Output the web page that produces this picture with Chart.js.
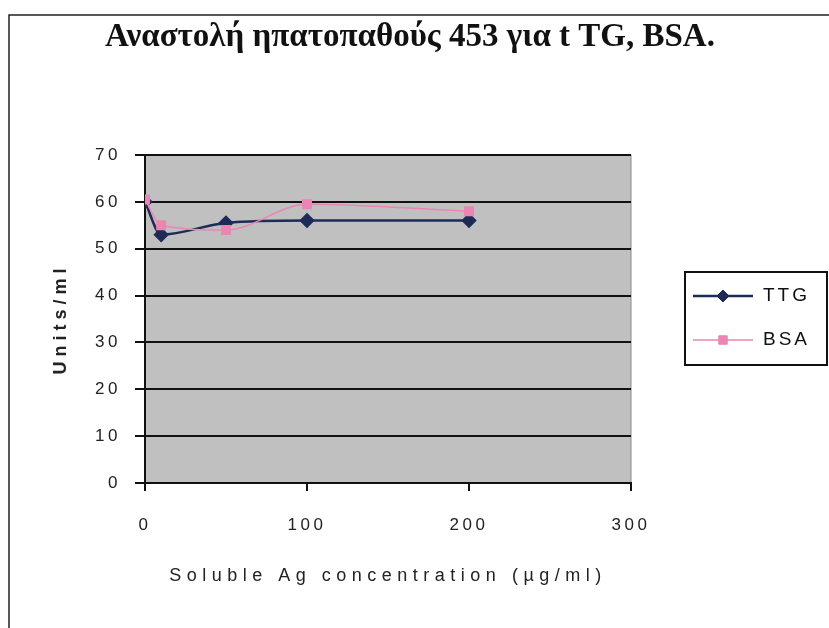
<!DOCTYPE html>
<html>
<head>
<meta charset="utf-8">
<script src="https://cdn.jsdelivr.net/npm/chart.js@4.4.1/dist/chart.umd.min.js"></script>
<style>
    html, body { margin: 0; padding: 0; background: #fff; }
    #wrap { width: 829px; height: 628px; }
</style>
</head>
<body>
<div id="wrap"><canvas id="chartUnits" width="829" height="628"></canvas></div>
<script>
// values
const concentrations = [0, 10, 50, 100, 200];
const ttgValues = [60, 53, 55.5, 56, 56];
const bsaValues = [60.5, 55, 54, 59.5, 58];
const xTicks = [0, 100, 200, 300];
const yTicks = [0, 10, 20, 30, 40, 50, 60, 70];

const chartTitle = "Αναστολή ηπατοπαθούς 453 για t TG, BSA.";
const ttgColor = "#1e2b57";
const bsaColor = "#ea86b3";

const toPoints = vals => concentrations.map((c, i) => ({x: c, y: vals[i]}));

// wider letter spacing for the axis titles, like the old Excel print
const spacedTitles = {
    id: "spacedTitles",
    afterLayout(chart) {
        [["x", "5.5px"], ["y", "5px"]].forEach(([id, sp]) => {
            const scale = chart.scales[id];
            const orig = scale.drawTitle;
            scale.drawTitle = function () {
                const ctx = this.ctx;
                const prev = ctx.letterSpacing;
                ctx.letterSpacing = sp;
                orig.apply(this, arguments);
                ctx.letterSpacing = prev;
            };
        });
    }
};

// gray plot area, page frame, title and boxed legend
const decorations = {
    id: "decorations",
    beforeDraw(chart) {
        const {ctx, chartArea: a} = chart;
        ctx.save();
        ctx.fillStyle = "#c0c0c0";
        ctx.fillRect(a.left, a.top, a.right - a.left, a.bottom - a.top);
        ctx.strokeStyle = "#8a8a8a";
        ctx.lineWidth = 1;
        ctx.strokeRect(a.left, a.top, a.right - a.left, a.bottom - a.top);

        ctx.strokeStyle = "#222";
        ctx.lineWidth = 1.5;
        ctx.beginPath();
        ctx.moveTo(9, 628);
        ctx.lineTo(9, 15);
        ctx.lineTo(829, 15);
        ctx.stroke();

        ctx.fillStyle = "#111";
        ctx.font = "bold 33px 'Liberation Serif'";
        ctx.textAlign = "center";
        ctx.textBaseline = "middle";
        ctx.fillText(chartTitle, 410, 37);
        ctx.restore();
        ctx.letterSpacing = "3.5px";
    },
    afterDraw(chart) {
        const {ctx} = chart;
        ctx.save();
        ctx.fillStyle = "#fff";
        ctx.fillRect(685, 272, 142, 93);
        ctx.strokeStyle = "#111";
        ctx.lineWidth = 2;
        ctx.strokeRect(685, 272, 142, 93);
        ctx.font = "19px 'Liberation Sans'";
        ctx.letterSpacing = "3px";
        ctx.textBaseline = "middle";
        chart.data.datasets.forEach((ds, i) => {
            const y = 296 + i * 44;
            ctx.strokeStyle = ds.borderColor;
            ctx.lineWidth = ds.borderWidth;
            ctx.beginPath();
            ctx.moveTo(693, y);
            ctx.lineTo(753, y);
            ctx.stroke();
            ctx.fillStyle = ds.pointBackgroundColor;
            ctx.strokeStyle = ds.pointBackgroundColor;
            ctx.lineWidth = 1;
            Chart.helpers.drawPoint(ctx, {pointStyle: ds.pointStyle, radius: ds.pointRadius, borderWidth: 1}, 723, y);
            ctx.fillStyle = "#111";
            ctx.fillText(ds.label, 763, y);
        });
        ctx.restore();
    }
};

new Chart(document.getElementById("chartUnits"), {
    type: "line",
    data: {
        datasets: [{
            label: "TTG",
            data: toPoints(ttgValues),
            order: 1,
            borderColor: ttgColor,
            borderWidth: 2.5,
            pointStyle: "rectRot",
            pointRadius: 6,
            pointBackgroundColor: ttgColor,
            pointBorderColor: ttgColor,
            cubicInterpolationMode: "monotone"
        }, {
            label: "BSA",
            data: toPoints(bsaValues),
            order: 0,
            borderColor: bsaColor,
            borderWidth: 1.5,
            pointStyle: "rect",
            pointRadius: 6,
            pointBackgroundColor: bsaColor,
            pointBorderColor: bsaColor,
            cubicInterpolationMode: "monotone"
        }]
    },
    options: {
        responsive: false,
        animation: false,
        layout: {padding: {left: 50, right: 198, top: 155, bottom: 15}},
        plugins: {legend: {display: false}, tooltip: {enabled: false}},
        scales: {
            x: {
                type: "linear",
                min: 0,
                max: 300,
                afterBuildTicks: s => { s.ticks = xTicks.map(v => ({value: v})); },
                afterFit: s => { s.height = 130; },
                grid: {drawOnChartArea: false, color: "#111", lineWidth: 2, tickLength: 8},
                border: {color: "#111", width: 2},
                ticks: {color: "#222", font: {family: "'Liberation Sans'", size: 17}, padding: 24, maxRotation: 0},
                title: {display: true, text: "Soluble Ag concentration (µg/ml)", color: "#222",
                        font: {family: "'Liberation Sans'", size: 18}, padding: {top: 0, bottom: 26}}
            },
            y: {
                min: 0,
                max: 70,
                afterBuildTicks: s => { s.ticks = yTicks.map(v => ({value: v})); },
                afterFit: s => { s.width = 95; },
                grid: {color: "#111", lineWidth: 2, tickLength: 10},
                border: {color: "#111", width: 2},
                ticks: {color: "#222", font: {family: "'Liberation Sans'", size: 17}, padding: 14},
                title: {display: true, text: "Units/ml", color: "#222",
                        font: {family: "'Liberation Sans'", size: 18, weight: "bold"}, padding: {top: 0, bottom: 0}}
            }
        }
    },
    plugins: [spacedTitles, decorations]
});
</script>
</body>
</html>
